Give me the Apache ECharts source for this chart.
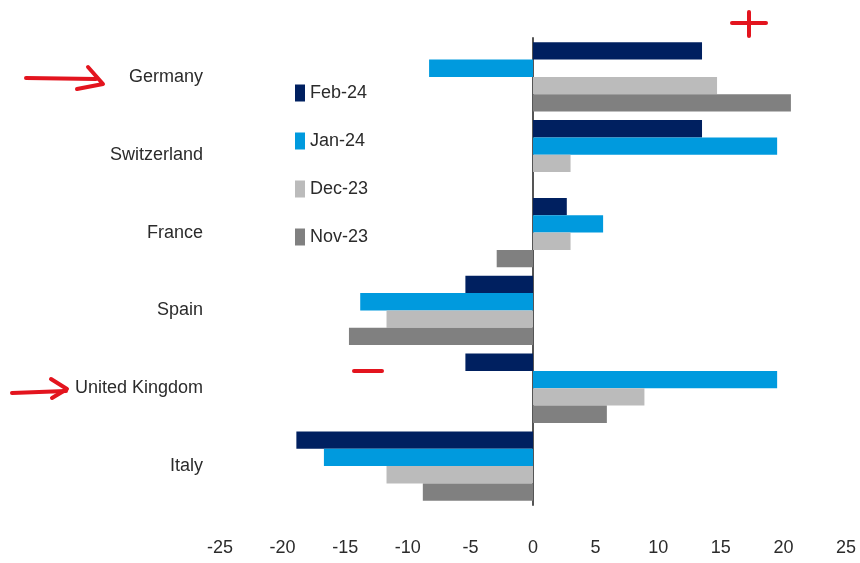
<!DOCTYPE html>
<html>
<head>
<meta charset="utf-8">
<script src="https://cdn.jsdelivr.net/npm/echarts@6/dist/echarts.min.js"></script>
<style>
  html, body { margin: 0; padding: 0; background: #fff; }
  #chart { width: 860px; height: 563px; }
</style>
</head>
<body>
<div id="chart"></div>
<script>
// countries top to bottom
const countries = ['Germany', 'Switzerland', 'France', 'Spain', 'United Kingdom', 'Italy'];
const months = ['Feb-24', 'Jan-24', 'Dec-23', 'Nov-23'];
const feb24 = [13.5, 13.5, 2.7, -5.4, -5.4, -18.9];
const jan24 = [-8.3, 19.5, 5.6, -13.8, 19.5, -16.7];
const dec23 = [14.7, 3.0, 3.0, -11.7, 8.9, -11.7];
const nov23 = [20.6, 0, -2.9, -14.7, 5.9, -8.8];
const xTicks = [-25, 25, 5]; // min, max, step

const colors = ['#002060', '#009ADE', '#BBBBBB', '#808080'];
const font = "'Liberation Sans Narrow', 'Liberation Sans', Arial, sans-serif";
const red = '#E3141E';

const chart = echarts.init(document.getElementById('chart'));

const seriesData = [feb24, jan24, dec23, nov23];
const series = months.map((m, i) => ({
  name: m,
  type: 'bar',
  yAxisIndex: 0,
  data: seriesData[i],
  barGap: '0%',
  barCategoryGap: '11%',
  itemStyle: { color: colors[i] },
  emphasis: { disabled: true }
}));

// hand drawn red marks on the picture
const redLine = (pts) => ({
  type: 'polyline',
  shape: { points: pts },
  style: { stroke: red, lineWidth: 4, lineCap: 'round', lineJoin: 'round', fill: null },
  z: 100
});

const option = {
  animation: false,
  backgroundColor: '#fff',
  color: colors,
  grid: { left: 220, right: 14, top: 38, bottom: 58 },
  legend: {
    orient: 'vertical',
    left: 290,
    top: 79,
    itemWidth: 10,
    itemHeight: 17,
    itemGap: 30,
    icon: 'rect',
    data: months,
    textStyle: { fontFamily: font, fontSize: 18, color: '#2b2b2b' }
  },
  xAxis: {
    type: 'value',
    min: xTicks[0],
    max: xTicks[1],
    interval: xTicks[2],
    axisLine: { show: false },
    axisTick: { show: false },
    splitLine: { show: false },
    axisLabel: { fontFamily: font, fontSize: 18, color: '#2b2b2b', margin: 34 }
  },
  yAxis: [
    {
      type: 'category',
      data: countries,
      inverse: true,
      axisLine: { show: false, onZero: false },
      axisTick: { show: false },
      axisLabel: { fontFamily: font, fontSize: 18, color: '#2b2b2b', margin: 17 }
    },
    {
      type: 'category',
      data: countries,
      inverse: true,
      position: 'left',
      axisLine: { show: true, onZero: true, lineStyle: { color: '#555', width: 2 } },
      axisTick: { show: false },
      axisLabel: { show: false }
    }
  ],
  series: series,
  graphic: [
    redLine([[26, 78], [96, 79]]),
    redLine([[88, 67], [103, 84], [77, 89]]),
    redLine([[12, 393], [66, 391]]),
    redLine([[51, 379], [67, 389], [52, 398]]),
    redLine([[354, 371], [382, 371]]),
    redLine([[732, 23], [766, 23]]),
    redLine([[749, 12], [749, 36]])
  ]
};

chart.setOption(option);
</script>
</body>
</html>
